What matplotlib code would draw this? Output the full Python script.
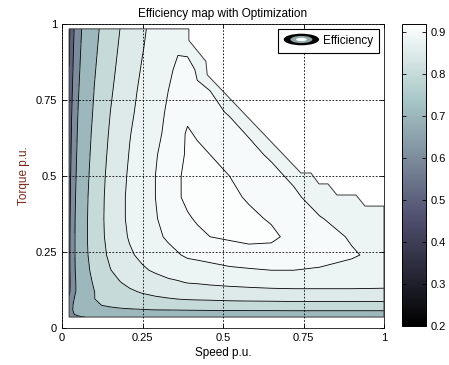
import numpy as np
import matplotlib
matplotlib.use("Agg")
import matplotlib.pyplot as plt
from matplotlib.patches import Polygon, Ellipse
from matplotlib.legend_handler import HandlerBase
from matplotlib.colors import Normalize
from matplotlib.cm import ScalarMappable
from matplotlib.lines import Line2D

plt.rcParams['font.family'] = ['Liberation Sans', 'DejaVu Sans']

# Operating grid (per-unit speed and torque)
speed = [0.022, 0.03, 0.04, 0.05, 0.065, 0.08, 0.1, 0.125, 0.15, 0.18, 0.21, 0.25,
         0.29, 0.33, 0.36, 0.39, 0.42, 0.46, 0.52, 0.58, 0.65, 0.72, 0.8, 0.9, 1.0]
torque = [0.036, 0.046, 0.06, 0.075, 0.095, 0.12, 0.15, 0.19, 0.24, 0.3, 0.36,
          0.43, 0.5, 0.57, 0.64, 0.71, 0.78, 0.85, 0.92, 0.984]

# Efficiency in per mille, one row per torque value
efficiency_pm = [
    [644, 665, 680, 689, 698, 703, 708, 712, 715, 717, 719, 720, 722, 722, 723, 723, 724, 724, 725, 725, 725, 726, 726, 726, 726],
    [657, 684, 705, 717, 730, 737, 744, 750, 754, 757, 759, 762, 763, 764, 765, 766, 766, 767, 768, 768, 769, 769, 769, 769, 769],
    [655, 691, 719, 736, 753, 764, 774, 782, 787, 792, 795, 798, 801, 802, 803, 804, 805, 806, 807, 808, 808, 809, 809, 809, 809],
    [642, 686, 720, 742, 763, 777, 790, 801, 808, 814, 818, 822, 825, 828, 829, 830, 831, 832, 834, 835, 835, 836, 836, 837, 836],
    [616, 669, 710, 737, 765, 783, 799, 812, 822, 830, 835, 841, 845, 848, 850, 852, 853, 854, 856, 857, 858, 859, 859, 859, 859],
    [581, 641, 690, 723, 756, 778, 799, 816, 828, 838, 846, 853, 858, 862, 865, 867, 868, 870, 872, 874, 875, 876, 876, 876, 876],
    [576, 638, 690, 725, 760, 784, 807, 825, 838, 849, 857, 865, 871, 876, 878, 881, 882, 884, 886, 887, 889, 889, 889, 889, 887],
    [579, 643, 696, 732, 769, 793, 816, 836, 849, 860, 869, 877, 883, 888, 891, 893, 894, 896, 898, 899, 900, 900, 899, 897, 895],
    [580, 645, 699, 736, 774, 799, 823, 843, 856, 868, 877, 885, 892, 896, 899, 902, 903, 904, 906, 907, 906, 906, 904, 901, 897],
    [578, 644, 699, 737, 775, 802, 826, 846, 861, 873, 882, 891, 897, 902, 905, 908, 908, 910, 911, 912, 912, 907, 904, 899, 892],
    [574, 641, 697, 735, 774, 801, 826, 847, 862, 875, 884, 893, 899, 905, 908, 909, 911, 911, 911, 912, 909, 905, 901, 893, 887],
    [567, 635, 692, 731, 771, 799, 825, 846, 862, 875, 884, 893, 900, 906, 909, 912, 911, 911, 912, 909, 905, 903, 893, 883, 883],
    [558, 627, 685, 725, 767, 795, 822, 844, 860, 873, 883, 893, 900, 905, 909, 912, 912, 912, 910, 905, 904, 897, 885, 877, 856],
    [549, 618, 677, 718, 761, 790, 818, 841, 857, 871, 881, 891, 899, 905, 908, 911, 912, 910, 904, 904, 898, 886, 874, 858, 839],
    [538, 609, 669, 711, 754, 785, 813, 837, 854, 868, 879, 889, 897, 903, 907, 911, 909, 904, 904, 899, 887, 877, 863, 844, 821],
    [527, 598, 659, 702, 747, 778, 807, 832, 850, 865, 876, 887, 895, 902, 905, 908, 904, 903, 899, 890, 880, 868, 851, 829, 803],
    [515, 587, 649, 693, 739, 771, 801, 827, 846, 861, 873, 885, 893, 900, 904, 907, 901, 900, 892, 884, 872, 858, 839, 813, 785],
    [502, 575, 638, 683, 730, 764, 795, 822, 841, 858, 870, 882, 891, 898, 902, 903, 899, 895, 887, 877, 864, 848, 827, 798, 766],
    [490, 562, 627, 673, 722, 756, 788, 817, 836, 854, 867, 879, 889, 896, 899, 898, 896, 891, 882, 871, 856, 837, 814, 782, 747],
    [478, 551, 616, 663, 713, 748, 782, 811, 832, 850, 863, 877, 887, 894, 899, 894, 894, 888, 878, 865, 848, 828, 802, 767, 730],
]

# Maximum-torque envelope of the drive (closed outline of the valid region)
env_speed = [0.022, 1.0, 1.0, 0.941, 0.913, 0.854, 0.826, 0.798, 0.773, 0.742,
             0.451, 0.447, 0.394, 0.394, 0.022]
env_torque = [0.036, 0.036, 0.401, 0.401, 0.4375, 0.4375, 0.474, 0.474, 0.51, 0.51,
              0.833, 0.877, 0.946, 0.984, 0.984]

levels = [0.2, 0.3, 0.4, 0.5, 0.6, 0.7, 0.8, 0.85, 0.88, 0.9, 0.91, 0.93]
cbar_ticks = [0.2, 0.3, 0.4, 0.5, 0.6, 0.7, 0.8, 0.9]
axis_ticks = [0, 0.25, 0.5, 0.75, 1]
axis_ticklabels = ['0', '0.25', '0.5', '0.75', '1']

W, T = np.meshgrid(speed, torque)
Z = np.array(efficiency_pm, dtype=float) / 1000.0

cmap = plt.get_cmap('bone')
norm = Normalize(0.2, 0.918)
# each band takes the colour of its lower bound
fill_colors = [cmap(norm(v)) for v in levels[:-1]]

fig = plt.figure(figsize=(4.49, 3.65), dpi=100)
ax = fig.add_axes([62/449, 37/365, 322/449, 304/365])

cf = ax.contourf(W, T, Z, levels=levels, colors=fill_colors, zorder=1)
cl = ax.contour(W, T, Z, levels=levels[1:-1], colors='k', linewidths=0.6, zorder=1.5)
outline = Polygon(np.column_stack([env_speed, env_torque]), closed=True,
                  facecolor='none', edgecolor='#3a3a3a', linewidth=0.7, zorder=1.6)
ax.add_patch(outline)
cf.set_clip_path(outline)
cl.set_clip_path(outline)

ax.set_xlim(0, 1)
ax.set_ylim(0, 1)
ax.set_xticks(axis_ticks, axis_ticklabels)
ax.set_yticks(axis_ticks, axis_ticklabels)
ax.tick_params(direction='in', length=3, labelsize=8, top=True, right=True, width=0.6)
ax.grid(True, linestyle=(0, (2, 2)), color='k', linewidth=0.6)
ax.set_axisbelow(False)
for sp in ax.spines.values():
    sp.set_linewidth(0.7)
    sp.set_color('#333333')

ax.set_title('Efficiency map with Optimization', fontsize=8.5, pad=5)
ax.set_xlabel('Speed p.u.', fontsize=8.5, labelpad=3)
ax.set_ylabel('Torque p.u.', fontsize=8.5, labelpad=4, color='#7a2a1a')


class ContourIcon(HandlerBase):
    """Legend key drawn as nested filled contours."""
    def create_artists(self, legend, orig_handle, xdescent, ydescent, width,
                       height, fontsize, trans):
        cx = -xdescent + width / 2
        cy = -ydescent + height / 2
        out = []
        for s, c in [(1.0, 'black'), (0.62, '#8fa6a6'), (0.3, 'white')]:
            out.append(Ellipse((cx, cy), width * s, height * 1.4 * s,
                               facecolor=c, edgecolor='none', transform=trans))
        return out


handle = Line2D([], [])
leg = ax.legend([handle], ['Efficiency'], handler_map={Line2D: ContourIcon()},
                loc='upper right', fontsize=8.5, fancybox=False, framealpha=1,
                edgecolor='black', handlelength=3.0, borderaxespad=0.4,
                handletextpad=0.35, borderpad=0.5)
leg.get_frame().set_linewidth(0.8)

cax = fig.add_axes([402/449, 39/365, 24/449, 302/365])
cb = fig.colorbar(ScalarMappable(norm=norm, cmap=cmap), cax=cax, ticks=cbar_ticks)
cb.ax.tick_params(direction='in', length=3, labelsize=8, width=0.6, left=True, right=True)
cb.ax.set_yticklabels([str(v) for v in cbar_ticks])
cb.outline.set_linewidth(0.7)

fig.savefig('out.png', dpi=100)
